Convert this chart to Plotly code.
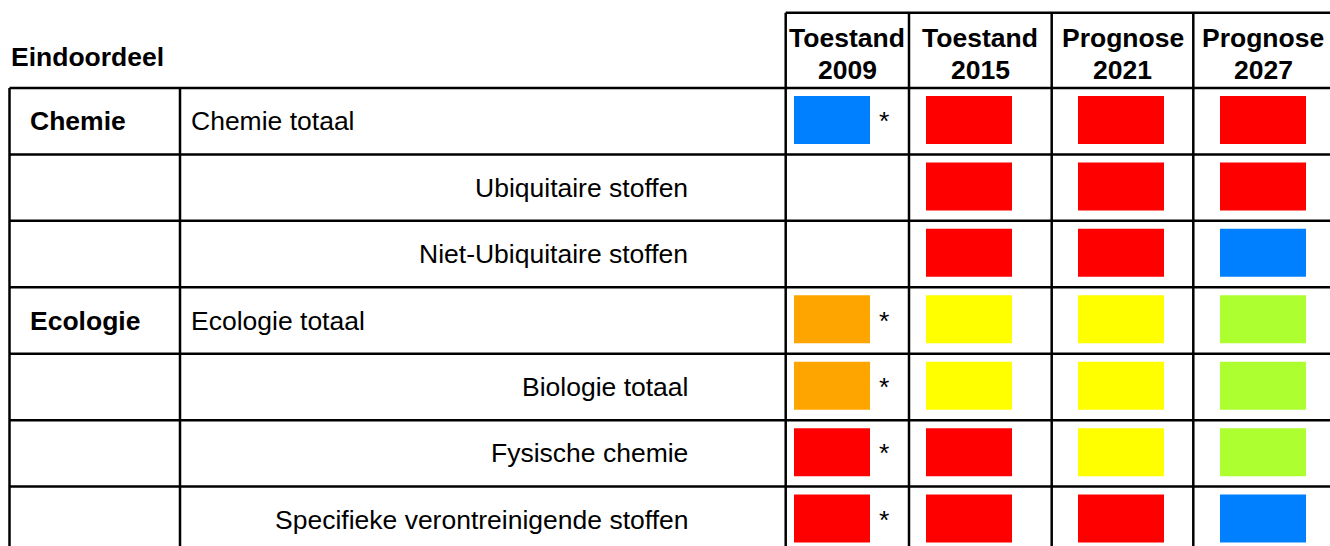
import plotly.graph_objects as go

# ---------------- data ----------------
title_text = "Eindoordeel"
row_labels = ["Chemie totaal", "Ubiquitaire stoffen", "Niet-Ubiquitaire stoffen",
              "Ecologie totaal", "Biologie totaal", "Fysische chemie",
              "Specifieke verontreinigende stoffen"]
group_labels = ["Chemie", "", "", "Ecologie", "", "", ""]
col_titles = [("Toestand", "2009"), ("Toestand", "2015"),
              ("Prognose", "2021"), ("Prognose", "2027")]
status_2009 = ["blue", None, None, "orange", "orange", "red", "red"]
status_2015 = ["red", "red", "red", "yellow", "yellow", "red", "red"]
status_2021 = ["red", "red", "red", "yellow", "yellow", "yellow", "red"]
status_2027 = ["red", "red", "blue", "green", "green", "green", "blue"]
asterisk_2009 = [True, False, False, True, True, True, True]

# ---------------- styling / layout ----------------
W, H = 1330, 546
palette = {"blue": "#0080FF", "red": "#FF0000", "orange": "#FFA500",
           "yellow": "#FFFF00", "green": "#ADFF2F"}
FONT = "Liberation Sans, Arial, sans-serif"
FS = 26.5

left_x, div_x = 9.5, 180
col_edges = [785.7, 909, 1051.7, 1193.3, 1336]
box_left = [794, 926, 1078, 1220]
box_w = [76, 86, 86, 86]
head_top = 12.7
table_top = 88
row_h = 66.43
box_pad, box_h = 8, 48
label_left_x, label_right_x, group_x = 189, 690, 28
star_x = 884

statuses = [status_2009, status_2015, status_2021, status_2027]
n_rows = len(row_labels)

fig = go.Figure()

# colored status boxes as bars on pixel-scaled axes
xs, ys, bases, widths, colors = [], [], [], [], []
for c, col in enumerate(statuses):
    for r, s in enumerate(col):
        if s is None:
            continue
        xs.append(box_left[c] + box_w[c] / 2)
        widths.append(box_w[c])
        bases.append(table_top + r * row_h + box_pad)
        ys.append(box_h)
        colors.append(palette[s])
fig.add_trace(go.Bar(x=xs, y=ys, base=bases, width=widths,
                     marker=dict(color=colors, line=dict(width=0)),
                     hoverinfo="skip", showlegend=False))

shapes = []
LW = 2.5
def line(x0, y0, x1, y1):
    shapes.append(dict(type="line", xref="x", yref="y", x0=x0, y0=y0, x1=x1, y1=y1,
                       line=dict(color="black", width=LW)))

# horizontal lines
line(col_edges[0], head_top, W + 10, head_top)
for i in range(n_rows + 1):
    y = table_top + i * row_h
    line(left_x, y, W + 10, y)
# vertical lines
line(left_x, table_top, left_x, H + 10)
line(div_x, table_top, div_x, H + 10)
for xe in col_edges:
    line(xe, head_top, xe, H + 10)

ann = []
def text(x, y, s, anchor="left", bold=False):
    ann.append(dict(x=x, y=y, xref="x", yref="y", text=f"<b>{s}</b>" if bold else s,
                    showarrow=False, xanchor=anchor, yanchor="middle",
                    font=dict(family=FONT, size=FS, color="black")))

text(left_x - 1, 57, title_text, bold=True)
for c, (l1, l2) in enumerate(col_titles):
    cx = (col_edges[c] + col_edges[c + 1]) / 2
    if c == 3:
        cx = col_edges[3] + 70
    text(cx, 38, l1, "center", True)
    text(cx, 70, l2, "center", True)

for r, lab in enumerate(row_labels):
    cy = table_top + r * row_h + row_h / 2
    if group_labels[r]:
        text(group_x, cy, group_labels[r], bold=True)
        text(label_left_x, cy, lab)
    else:
        text(label_right_x, cy, lab, "right")
    if asterisk_2009[r]:
        text(star_x, cy, "*", "center")

fig.update_layout(
    width=W, height=H, margin=dict(l=0, r=0, t=0, b=0),
    paper_bgcolor="white", plot_bgcolor="white",
    xaxis=dict(range=[0, W], visible=False, fixedrange=True),
    yaxis=dict(range=[H, 0], visible=False, fixedrange=True),
    barmode="overlay", shapes=shapes, annotations=ann, showlegend=False,
)
fig.write_html("out.html", config={"displayModeBar": False},
               post_script="document.body.style.margin='0';document.body.style.overflow='hidden';")
